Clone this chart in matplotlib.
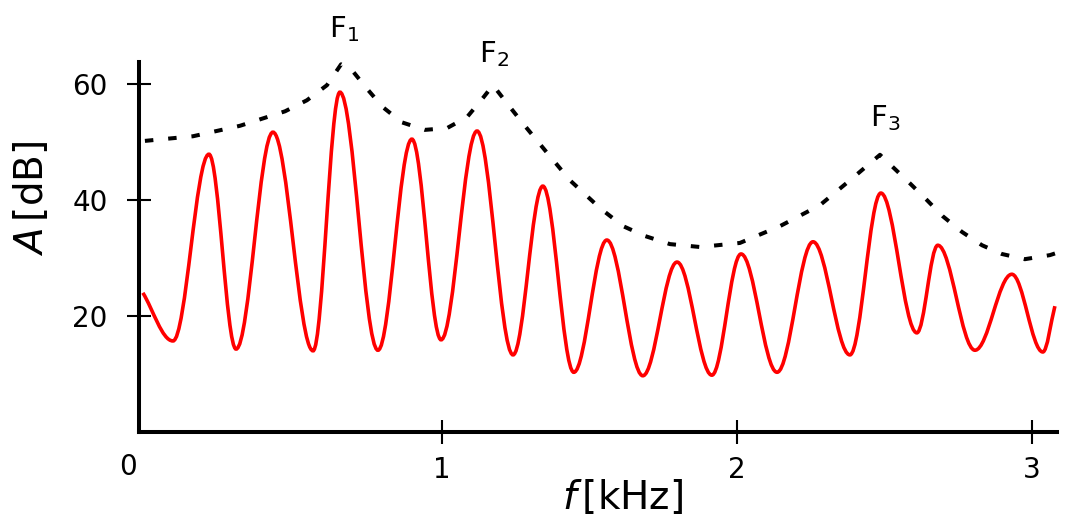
import matplotlib.pyplot as plt
from matplotlib.path import Path
from matplotlib.patches import PathPatch

plt.rcParams['font.family'] = ['DejaVu Sans']
plt.rcParams['mathtext.fontset'] = 'dejavusans'
plt.rcParams['mathtext.default'] = 'regular'

# harmonics: start, then alternating troughs / peaks, then end (kHz, dB)
red_f = [-0.014, 0.088, 0.210, 0.302, 0.427, 0.563, 0.654, 0.783, 0.898, 0.997,
         1.119, 1.241, 1.342, 1.447, 1.559, 1.681, 1.797, 1.915, 2.014, 2.136,
         2.258, 2.383, 2.488, 2.610, 2.681, 2.807, 2.932, 3.037, 3.078]
red_a = [24.0, 15.7, 47.9, 14.3, 51.7, 14.0, 58.6, 14.1, 50.5, 15.9,
         51.9, 13.3, 42.4, 10.3, 33.1, 9.7, 29.3, 9.8, 30.7, 10.3,
         32.8, 13.3, 41.2, 17.1, 32.2, 14.1, 27.2, 13.8, 21.7]

# spectral envelope (dotted)
env_f = [-0.007, 0.156, 0.315, 0.468, 0.542, 0.610, 0.658, 0.698, 0.749, 0.800,
         0.864, 0.942, 1.017, 1.085, 1.139, 1.173, 1.231, 1.281, 1.349, 1.434,
         1.536, 1.614, 1.688, 1.773, 1.875, 2.010, 2.146, 2.281, 2.383, 2.485,
         2.586, 2.644, 2.698, 2.763, 2.831, 2.898, 2.976, 3.061, 3.115]
env_a = [50.2, 51.0, 52.8, 55.3, 57.2, 59.8, 63.4, 62.2, 59.0, 56.0,
         53.4, 52.1, 52.4, 54.3, 57.6, 59.8, 56.0, 52.8, 48.6, 43.4,
         38.6, 35.5, 33.8, 32.4, 31.9, 32.6, 35.5, 39.1, 43.4, 47.8,
         42.9, 40.0, 37.2, 34.5, 32.2, 30.7, 29.8, 30.5, 31.4]

formant_names = ["F$_1$", "F$_2$", "F$_3$"]
formant_f = [0.617, 1.126, 2.451]
formant_a = [68.1, 63.8, 52.8]

xtick_vals = [1, 2, 3]
ytick_vals = [20, 40, 60]

fig = plt.figure(figsize=(10.67, 5.16), dpi=100)
ax = fig.add_axes([0.1303, 0.1628, 0.8603, 0.717])
ax.set_xlim(-0.027, 3.085)
ax.set_ylim(0, 63.8)

# smooth harmonic curve: bezier segments between extrema
verts = [(red_f[0], red_a[0])]
codes = [Path.MOVETO]
n = len(red_f)
for i in range(n - 1):
    x0, y0 = red_f[i], red_a[i]
    x1, y1 = red_f[i + 1], red_a[i + 1]
    k = 0.36 * (x1 - x0)
    if i == 0:
        c1 = (x0 + (x1 - x0) / 3, y0 + (y1 - y0) / 3)
    else:
        c1 = (x0 + k, y0)
    if i + 1 == n - 1:
        c2 = (x1 - (x1 - x0) / 3, y1 - (y1 - y0) / 3)
    else:
        c2 = (x1 - k, y1)
    verts += [c1, c2, (x1, y1)]
    codes += [Path.CURVE4] * 3
ax.add_patch(PathPatch(Path(verts, codes), fill=False, edgecolor='#ff0000', lw=2.6))

ax.plot(env_f, env_a, color='black', lw=2.9, dashes=(2.1, 3.7), clip_on=False)

for name, xf, ya in zip(formant_names, formant_f, formant_a):
    ax.text(xf, ya, name, fontsize=21, ha='left', va='baseline', clip_on=False)

for s in ['top', 'right']:
    ax.spines[s].set_visible(False)
for s in ['left', 'bottom']:
    ax.spines[s].set_linewidth(2.9)

ax.set_xticks(xtick_vals)
ax.set_yticks(ytick_vals)
ax.tick_params(axis='both', direction='inout', length=17, width=1.5, labelsize=20)
ax.tick_params(axis='x', pad=9)
ax.tick_params(axis='y', pad=14)
ax.text(-0.064, -0.0946, "0", transform=ax.get_xaxis_transform(), fontsize=20,
        ha='center', va='center')

fig.text(623 / 1067, 1 - 498 / 516, "$\\mathit{f}\\,$[kHz]", fontsize=28, ha='center', va='center')
fig.text(31 / 1067, 1 - 198 / 516, "$\\mathit{A}\\,$[dB]", fontsize=28, rotation=90,
         ha='center', va='center')

fig.savefig("out.png", dpi=100)
